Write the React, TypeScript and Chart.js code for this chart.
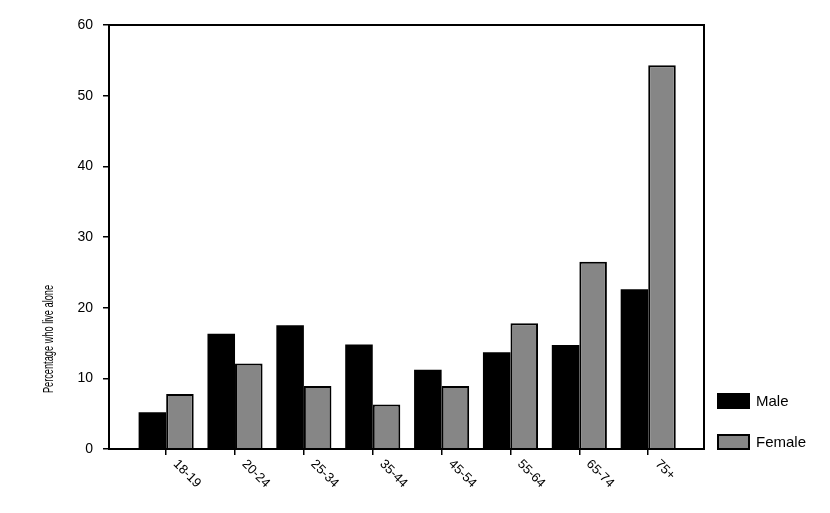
import React, { useEffect, useRef } from 'react';
import { Chart, registerables } from 'chart.js';

Chart.register(...registerables);

const categories = ['18-19', '20-24', '25-34', '35-44', '45-54', '55-64', '65-74', '75+'];
const maleValues = [5.2, 16.3, 17.5, 14.8, 11.2, 13.7, 14.7, 22.6];
const femaleValues = [7.8, 12.1, 8.9, 6.3, 8.9, 17.8, 26.5, 54.3];
const seriesNames = ['Male', 'Female'];
const seriesColors = ['#000000', '#868686'];
const yTitle = 'Percentage who live alone';
const yMin = 0;
const yMax = 60;
const yStep = 10;

const FONT = '"Liberation Sans", Arial, Helvetica, sans-serif';

const framePlugin = {
  id: 'frame',
  afterDatasetsDraw(chart: any) {
    const { ctx, chartArea } = chart;
    ctx.save();
    ctx.strokeStyle = '#000';
    ctx.lineWidth = 2;
    ctx.strokeRect(chartArea.left, chartArea.top, chartArea.right - chartArea.left, chartArea.bottom - chartArea.top);
    ctx.restore();
  },
};

const xLabelPlugin = {
  id: 'xLabels',
  afterDraw(chart: any) {
    const { ctx, chartArea } = chart;
    const xs = chart.scales.x;
    ctx.save();
    ctx.fillStyle = '#000';
    ctx.font = `13px ${FONT}`;
    ctx.textAlign = 'left';
    ctx.textBaseline = 'middle';
    categories.forEach((label, i) => {
      const px = xs.getPixelForValue(i);
      ctx.save();
      ctx.translate(px + 9, chartArea.bottom + 13);
      ctx.rotate(Math.PI / 4);
      ctx.fillText(label, 0, 0);
      ctx.restore();
    });
    ctx.restore();
  },
};

const yTitlePlugin = {
  id: 'yTitle',
  afterDraw(chart: any) {
    const { ctx } = chart;
    ctx.save();
    ctx.fillStyle = '#000';
    ctx.font = `15px ${FONT}`;
    ctx.textAlign = 'center';
    ctx.textBaseline = 'middle';
    ctx.translate(49, 339);
    ctx.rotate(-Math.PI / 2);
    ctx.scale(0.615, 1);
    ctx.fillText(yTitle, 0, 0);
    ctx.restore();
  },
};

const legendPlugin = {
  id: 'customLegend',
  afterDraw(chart: any) {
    const { ctx, chartArea } = chart;
    const datasets = chart.data.datasets;
    ctx.save();
    ctx.font = `15px ${FONT}`;
    ctx.textAlign = 'left';
    ctx.textBaseline = 'middle';
    const n = datasets.length;
    datasets.forEach((ds: any, i: number) => {
      const bx = chartArea.right + 13;
      const by = chartArea.bottom - 15 - (n - 1 - i) * 41;
      const bw = 33;
      const bh = 16;
      ctx.fillStyle = ds.backgroundColor;
      ctx.fillRect(bx, by, bw, bh);
      if (ds.borderWidth) {
        ctx.strokeStyle = '#000';
        ctx.lineWidth = 2;
        ctx.strokeRect(bx + 1, by + 1, bw - 2, bh - 2);
      }
      ctx.fillStyle = '#000';
      ctx.fillText(ds.label, bx + 39, by + bh / 2 + 1);
    });
    ctx.restore();
  },
};

export default function App() {
  const canvasRef = useRef<HTMLCanvasElement | null>(null);

  useEffect(() => {
    const canvas = canvasRef.current;
    if (!canvas) return;
    const chart = new Chart(canvas, {
      type: 'bar',
      data: {
        datasets: [
          {
            label: seriesNames[0],
            data: maleValues.map((v, i) => ({ x: i, y: v })),
            backgroundColor: seriesColors[0],
            borderColor: '#000',
            borderWidth: 0,
            categoryPercentage: 0.8,
            barPercentage: 1.0,
          },
          {
            label: seriesNames[1],
            data: femaleValues.map((v, i) => ({ x: i, y: v })),
            backgroundColor: seriesColors[1],
            borderColor: '#000',
            borderWidth: 2,
            borderSkipped: 'bottom',
            categoryPercentage: 0.8,
            barPercentage: 1.0,
          },
        ] as any,
      },
      options: {
        animation: false,
        responsive: false,
        devicePixelRatio: 1,
        layout: { padding: { top: 25, right: 126, left: 0, bottom: 0 } },
        plugins: {
          legend: { display: false },
          tooltip: { enabled: false },
        },
        scales: {
          x: {
            type: 'linear',
            min: -0.83,
            max: 7.81,
            offset: false,
            border: { display: false },
            grid: {
              offset: false,
              drawOnChartArea: false,
              drawTicks: true,
              tickLength: 6,
              color: '#000',
              lineWidth: 1.5,
            },
            ticks: { display: false },
            afterBuildTicks: (s: any) => {
              s.ticks = categories.map((_, i) => ({ value: i }));
            },
            afterFit: (s: any) => {
              s.height = 64;
            },
          },
          y: {
            min: yMin,
            max: yMax,
            border: { display: false },
            grid: {
              drawOnChartArea: false,
              drawTicks: true,
              tickLength: 6,
              color: '#000',
              lineWidth: 1.5,
            },
            ticks: {
              stepSize: yStep,
              color: '#000',
              padding: 10,
              font: { family: FONT, size: 14 },
            },
            afterFit: (s: any) => {
              s.width = 109;
            },
          },
        },
      } as any,
      plugins: [framePlugin, xLabelPlugin, yTitlePlugin, legendPlugin],
    });
    return () => chart.destroy();
  }, []);

  return (
    <div style={{ position: 'fixed', left: 0, top: 0, width: 830, height: 513, background: '#fff' }}>
      <canvas ref={canvasRef} width={830} height={513} style={{ width: 830, height: 513, display: 'block' }} />
    </div>
  );
}
